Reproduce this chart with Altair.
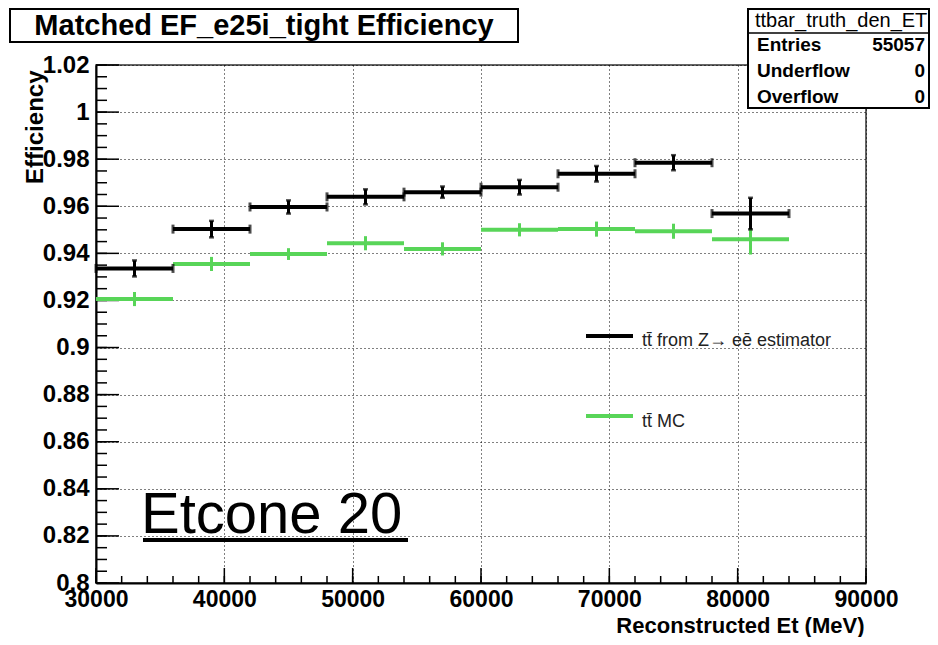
import altair as alt
import pandas as pd

# ---------------- data ----------------
bin_centers = [33000, 39000, 45000, 51000, 57000, 63000, 69000, 75000, 81000]
bin_half_width = 3000
est_eff = [0.9336, 0.9503, 0.9597, 0.9640, 0.9660, 0.9681, 0.9738, 0.9785, 0.9569]
est_err = [0.0034, 0.0035, 0.0028, 0.0032, 0.0024, 0.0031, 0.0033, 0.0032, 0.0067]
mc_eff = [0.9206, 0.9355, 0.9397, 0.9443, 0.9419, 0.9500, 0.9503, 0.9494, 0.9460]
mc_err = [0.0030, 0.0030, 0.0025, 0.0030, 0.0028, 0.0028, 0.0032, 0.0032, 0.0065]

x_major = [30000, 40000, 50000, 60000, 70000, 80000, 90000]
x_minor = [30000 + 2000 * i for i in range(31)]
y_major = [0.80, 0.82, 0.84, 0.86, 0.88, 0.90, 0.92, 0.94, 0.96, 0.98, 1.00, 1.02]
y_minor = [round(0.80 + 0.005 * i, 3) for i in range(45)]

title_text = ["Matched EF_e25i_tight Efficiency"]
stats_header = ["ttbar_truth_den_ET"]
stats_names = ["Entries", "Underflow", "Overflow"]
stats_values = ["55057", "0", "0"]
legend_labels = ["tt\u0304 from Z\u2192 ee\u0304 estimator", "tt\u0304 MC"]
annotation = ["Etcone 20"]

BLACK = "#000000"
GREEN = "#58d558"
FONT = "Liberation Sans"

W, H = 770, 518

def series_df(name, eff, err):
    return pd.DataFrame({
        "series": name,
        "x": bin_centers,
        "xlo": [c - bin_half_width for c in bin_centers],
        "xhi": [c + bin_half_width for c in bin_centers],
        "y": eff,
        "ylo": [e - d for e, d in zip(eff, err)],
        "yhi": [e + d for e, d in zip(eff, err)],
    })

est = series_df("est", est_eff, est_err)
mc = series_df("mc", mc_eff, mc_err)

xs = alt.Scale(domain=[30000, 90000], nice=False, zero=False)
ys = alt.Scale(domain=[0.8, 1.02], nice=False, zero=False)

x_axis = alt.Axis(
    values=x_major, grid=True, gridDash=[1, 3], gridColor="black", gridWidth=1,
    ticks=False, domain=True, domainColor="black", domainWidth=2,
    labelFont=FONT, labelFontSize=23, labelFontWeight="bold", labelColor="black",
    labelPadding=5, labelFlush=False, labelOverlap=False, labelBound=False, format="d",
    title="Reconstructed Et (MeV)", titleFont=FONT, titleFontSize=22, titleFontWeight="bold",
    titleColor="black", titleX=768, titleY=49, titleAlign="right", titleBaseline="alphabetic",
)
y_axis = alt.Axis(
    values=y_major, grid=True, gridDash=[1, 3], gridColor="black", gridWidth=1,
    ticks=False, domain=True, domainColor="black", domainWidth=2,
    labelFont=FONT, labelFontSize=24, labelFontWeight="bold", labelColor="black",
    labelPadding=7, labelOverlap=False, labelBound=False, labelFlush=False, format="~g",
    title="Efficiency", titleFont=FONT, titleFontSize=24, titleFontWeight="bold",
    titleColor="black", titleX=-61, titleY=5, titleAngle=270, titleAlign="right",
    titleBaseline="middle",
)

def X(field, axes=False):
    if axes:
        return alt.X(field, scale=xs, axis=x_axis)
    return alt.X(field, scale=xs)

def Y(field, axes=False):
    if axes:
        return alt.Y(field, scale=ys, axis=y_axis)
    return alt.Y(field, scale=ys)

est_h = alt.Chart(est).mark_rule(color=BLACK, strokeWidth=4).encode(
    x=X("xlo:Q", True), x2="xhi:Q", y=Y("y:Q", True))
est_v = alt.Chart(est).mark_rule(color=BLACK, strokeWidth=3).encode(
    x=X("x:Q"), y=Y("ylo:Q"), y2="yhi:Q")
est_caps_lo = alt.Chart(est).mark_tick(color=BLACK, orient="vertical", size=9, thickness=3).encode(
    x=X("xlo:Q"), y=Y("y:Q"))
est_caps_hi = alt.Chart(est).mark_tick(color=BLACK, orient="vertical", size=9, thickness=3).encode(
    x=X("xhi:Q"), y=Y("y:Q"))
est_vcap_lo = alt.Chart(est).mark_tick(color=BLACK, orient="horizontal", size=5, thickness=2.5).encode(
    x=X("x:Q"), y=Y("ylo:Q"))
est_vcap_hi = alt.Chart(est).mark_tick(color=BLACK, orient="horizontal", size=5, thickness=2.5).encode(
    x=X("x:Q"), y=Y("yhi:Q"))

mc_h = alt.Chart(mc).mark_rule(color=GREEN, strokeWidth=4).encode(
    x=X("xlo:Q"), x2="xhi:Q", y=Y("y:Q"))
mc_v = alt.Chart(mc).mark_rule(color=GREEN, strokeWidth=3).encode(
    x=X("x:Q"), y=Y("ylo:Q"), y2="yhi:Q")

# inward tick marks (ROOT style)
ytm = alt.Chart(pd.DataFrame({"y": y_major})).mark_rule(color="black", strokeWidth=1.5).encode(
    y=Y("y:Q"), x=alt.value(0), x2=alt.value(23))
ytn = alt.Chart(pd.DataFrame({"y": y_minor})).mark_rule(color="black", strokeWidth=1.5).encode(
    y=Y("y:Q"), x=alt.value(0), x2=alt.value(11))
xtm = alt.Chart(pd.DataFrame({"xlo": x_major})).mark_rule(color="black", strokeWidth=1.5).encode(
    x=X("xlo:Q"), y=alt.value(H), y2=alt.value(H - 15))
xtn = alt.Chart(pd.DataFrame({"xlo": x_minor})).mark_rule(color="black", strokeWidth=1.5).encode(
    x=X("xlo:Q"), y=alt.value(H), y2=alt.value(H - 7))

one = pd.DataFrame({"k": [0]})

def label(text, x, y, size, weight="normal", align="left", color="black", baseline="middle"):
    return alt.Chart(pd.DataFrame({"t": [text]})).mark_text(
        font=FONT, fontSize=size, fontWeight=weight, color=color, align=align, baseline=baseline
    ).encode(text="t:N", x=alt.value(x), y=alt.value(y))

# title box
title_box = alt.Chart(one).mark_rect(fill="white", stroke="black", strokeWidth=2).encode(
    x=alt.value(-86), x2=alt.value(422), y=alt.value(-56), y2=alt.value(-23))
title_txt = label(title_text[0], 168, -39, 29, "bold", "center")

# stats box
stats_box = alt.Chart(one).mark_rect(fill="white", stroke="black", strokeWidth=2).encode(
    x=alt.value(652), x2=alt.value(833), y=alt.value(-56), y2=alt.value(43))
stats_sep = alt.Chart(one).mark_rule(color="black", strokeWidth=1.5).encode(
    x=alt.value(652), x2=alt.value(833), y=alt.value(-32))
stats_layers = [label(stats_header[0], 659, -44, 20)]
for i, (n, v) in enumerate(zip(stats_names, stats_values)):
    stats_layers.append(label(n, 661, -20 + 26 * i, 19, "bold", "left"))
    stats_layers.append(label(v, 829, -20 + 26 * i, 19, "bold", "right"))

# legend
leg_black = alt.Chart(one).mark_rule(color=BLACK, strokeWidth=4).encode(
    x=alt.value(490), x2=alt.value(537), y=alt.value(271))
leg_green = alt.Chart(one).mark_rule(color=GREEN, strokeWidth=4).encode(
    x=alt.value(490), x2=alt.value(537), y=alt.value(351))
leg_t1 = label(legend_labels[0], 546, 276, 18, color="#222222")
leg_t2 = label(legend_labels[1], 546, 357, 18, color="#222222")

# Etcone annotation
etc_txt = label(annotation[0], 45, 468, 58, baseline="alphabetic")
etc_line = alt.Chart(one).mark_rule(color="black", strokeWidth=4).encode(
    x=alt.value(47), x2=alt.value(312), y=alt.value(475))

chart = alt.layer(
    est_h, ytn, ytm, xtn, xtm,
    mc_h, mc_v, est_v, est_caps_lo, est_caps_hi, est_vcap_lo, est_vcap_hi,
    leg_black, leg_green, leg_t1, leg_t2, etc_txt, etc_line,
    title_box, title_txt, stats_box, stats_sep, *stats_layers,
).properties(
    width=W, height=H,
    padding={"left": 88, "top": 57, "right": 64, "bottom": 54},
    autosize=alt.AutoSizeParams(type="none"),
    background="white",
).configure_view(stroke="#333333", strokeWidth=1.5)

chart.save("out.html", embed_options={"renderer": "svg", "actions": False})
